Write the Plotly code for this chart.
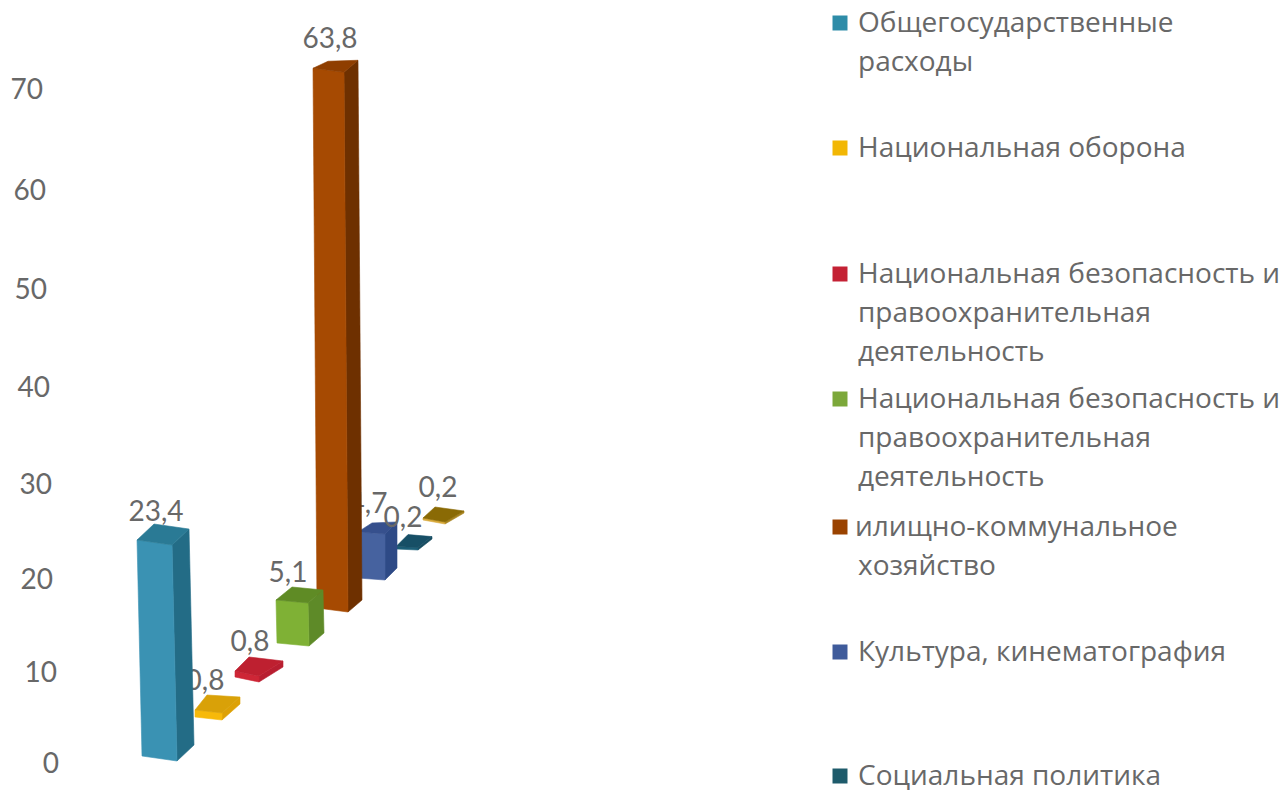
import plotly.graph_objects as go

# ---- data ----
categories = [
    "Общегосударственные расходы", "Национальная оборона",
    "Национальная безопасность и правоохранительная деятельность",
    "Национальная безопасность и правоохранительная деятельность (2)",
    "илищно-коммунальное хозяйство", "Культура, кинематография",
    "Социальная политика", "Прочее",
]
values = [23.4, 0.8, 0.8, 5.1, 63.8, 4.7, 0.2, 0.2]
value_labels = ["23,4", "0,8", "0,8", "5,1", "63,8", "4,7", "0,2", "0,2"]
tick_labels = ["0", "10", "20", "30", "40", "50", "60", "70"]
legend_lines = [
    ["Общегосударственные", "расходы"],
    ["Национальная оборона"],
    ["Национальная безопасность и", "правоохранительная", "деятельность"],
    ["Национальная безопасность и", "правоохранительная", "деятельность"],
    ["илищно-коммунальное", "хозяйство"],
    ["Культура, кинематография"],
    ["Социальная политика"],
]

# ---- colours: front, side, top ----
front = ["#3A92B3", "#F7B90A", "#CE2636", "#7FB135", "#A64A02", "#46629F", "#1C5F78", "#D8A93A"]
side = ["#236C86", "#DDA106", "#B81E30", "#5E8A28", "#6E3000", "#2E4A86", "#164C60", "#A88420"]
top = ["#2A7A95", "#D9A108", "#BE2030", "#5F8B25", "#8F3E00", "#36508D", "#174F66", "#8A6A05"]
legend_colors = ["#2E8CA8", "#F2B705", "#C42134", "#7CA83A", "#9A4300", "#3F5B9B", "#1E5B6B"]

# ---- projection of the pseudo 3D scene (screen geometry) ----
PX_W, PX_H = 1282, 793
ZERO_PX, UNIT_PX = 762, 9.61
base_fl = [(142, 756), (195, 717), (235, 677), (277, 643), (317, 608), (358, 578), (396, 549), (423, 520)]
base_fr = [(177, 761), (222, 720), (259, 682), (309, 646), (348, 612), (385, 580), (418, 550), (445, 524)]
base_br = [(194, 745), (240, 704), (283, 667), (324, 633), (362, 600), (397, 568), (432, 539), (464, 513)]
base_bl_dx = [17, 12, 14, 16, 15, 14, 12, 12]
base_bl_dy = [16, 15, 14, 13, 7, 9, 12, 11]
px_per_value = [9.23, 8.75, 7.5, 8.43, 8.46, 9.8, 12, 10]
lean_per_px = [0.023, 0, 0, 0.023, 0.0074, 0, 0, 0]
label_pos = [(156, 514), (205, 683), (250, 644), (288, 575), (330, 41), (368, 506), (403, 520), (438, 490)]
tick_pos = [(59, 766), (57, 675), (53, 582), (52, 487), (50, 390), (47, 292), (46, 193), (43, 92)]
legend_y = [23, 148, 274, 399, 527, 652, 776]
LINE_PITCH = 39
TEXT_DROP = 2
FONT = "Lato"
LEGEND_FONT = "Open Sans"
TEXT = "#686868"


def to_y(px):
    return (ZERO_PX - px) / UNIT_PX


def poly(points, color):
    xs = [p[0] for p in points] + [points[0][0]]
    ys = [to_y(p[1]) for p in points] + [to_y(points[0][1])]
    return go.Scatter(x=xs, y=ys, mode="lines", fill="toself", fillcolor=color,
                      line=dict(width=0.6, color=color), hoverinfo="skip", showlegend=False)


def bar_traces(i):
    h = values[i] * px_per_value[i]
    lift = lambda p: (p[0] - lean_per_px[i] * h, p[1] - h)
    fl, fr, br = base_fl[i], base_fr[i], base_br[i]
    bl = (fl[0] + base_bl_dx[i], fl[1] - base_bl_dy[i])
    return [
        poly([fr, br, lift(br), lift(fr)], side[i]),
        poly([fl, fr, lift(fr), lift(fl)], front[i]),
        poly([lift(fl), lift(fr), lift(br), lift(bl)], top[i]),
    ]


def label_trace(i):
    return go.Scatter(x=[label_pos[i][0]], y=[to_y(label_pos[i][1])], mode="text",
                      text=[value_labels[i]], textposition="middle center",
                      textfont=dict(family=FONT, size=28, color=TEXT),
                      hoverinfo="skip", showlegend=False)


fig = go.Figure()
# back to front; labels of the far bars sit above all far bars but below the tall bar
for i in (7, 6, 5):
    fig.add_traces(bar_traces(i))
for i in (5, 6, 7):
    fig.add_trace(label_trace(i))
for i in (4, 3, 2, 1, 0):
    fig.add_traces(bar_traces(i))
    fig.add_trace(label_trace(i))

# value axis labels
fig.add_trace(go.Scatter(
    x=[p[0] for p in tick_pos], y=[to_y(p[1]) for p in tick_pos], mode="text",
    text=tick_labels, textposition="middle left",
    textfont=dict(family=FONT, size=28, color=TEXT), hoverinfo="skip", showlegend=False))

# legend
fig.add_trace(go.Scatter(
    x=[840] * len(legend_y), y=[to_y(v) for v in legend_y], mode="markers",
    marker=dict(symbol="square", size=15, color=legend_colors, line=dict(width=0)),
    hoverinfo="skip", showlegend=False))
line_x, line_y, line_t = [], [], []
for ypx, lines in zip(legend_y, legend_lines):
    for k, t in enumerate(lines):
        line_x.append(855 if t.startswith("илищно") else 858)
        line_y.append(to_y(ypx + TEXT_DROP + k * LINE_PITCH))
        line_t.append(t)
fig.add_trace(go.Scatter(
    x=line_x, y=line_y, mode="text", text=line_t, textposition="middle right",
    cliponaxis=False,
    textfont=dict(family=LEGEND_FONT, size=28, color=TEXT), hoverinfo="skip", showlegend=False))

fig.update_layout(
    width=PX_W, height=PX_H, margin=dict(l=0, r=0, t=0, b=0),
    paper_bgcolor="white", plot_bgcolor="white", showlegend=False,
    xaxis=dict(range=[0, PX_W], visible=False, fixedrange=True),
    yaxis=dict(range=[to_y(PX_H), to_y(0)], visible=False, fixedrange=True),
)
fig.write_html("out.html", config=dict(displayModeBar=False),
               post_script="document.body.style.margin='0';")
